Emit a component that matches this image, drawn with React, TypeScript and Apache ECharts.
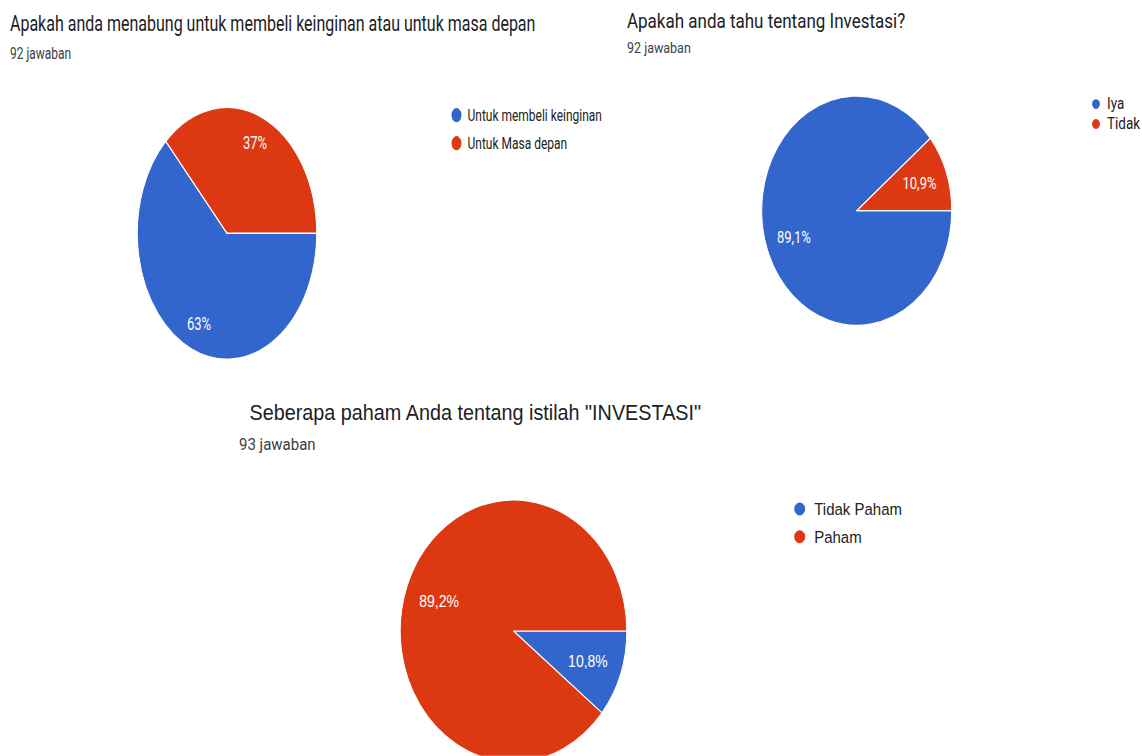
import React, { useEffect, useRef } from "react";
import * as echarts from "echarts";

// ---- data ----
const sliceColors = ["#3366cc", "#dc3912"];

const q1Title = "Apakah anda menabung untuk membeli keinginan atau untuk masa depan";
const q1Subtitle = "92 jawaban";
const q1Categories = ["Untuk membeli keinginan", "Untuk Masa depan"];
const q1Counts = [58, 34];

const q2Title = "Apakah anda tahu tentang Investasi?";
const q2Subtitle = "92 jawaban";
const q2Categories = ["Iya", "Tidak"];
const q2Counts = [82, 10];

const q3Title = 'Seberapa paham Anda tentang istilah "INVESTASI"';
const q3Subtitle = "93 jawaban";
const q3Categories = ["Tidak Paham", "Paham"];
const q3Counts = [10, 83];

const ROBOTO = "Roboto, 'Noto Sans', sans-serif";
const ARIAL = "'Liberation Sans', Arial, sans-serif";

type Cfg = {
  title: string;
  subtitle: string;
  categories: string[];
  counts: number[];
  titleLeft: number;
  titleTop: number;
  titleSize: number;
  titleLH: number;
  titleFont: string;
  subLeft: number;
  subTop: number;
  subSize: number;
  subLH: number;
  legendLeft: number;
  legendTop: number;
  legendSize: number;
  legendLH: number;
  legendGap: number;
  legendFont: string;
  iconW: number;
  iconH: number;
  center: [number, number];
  radius: number;
  labelRatio: number;
  labelSize: number;
  labelFont: string;
};

function buildOption(c: Cfg) {
  const total = c.counts.reduce((a, b) => a + b, 0);
  const data = c.categories.map((name, i) => ({
    name,
    value: c.counts[i],
    itemStyle: { color: sliceColors[i] },
  }));
  const fmt = (p: any) => {
    const v = (p.value / total) * 100;
    const s = Math.abs(v - Math.round(v)) < 0.05 ? String(Math.round(v)) : v.toFixed(1);
    return s.replace(".", ",") + "%";
  };
  return {
    animation: false,
    backgroundColor: "transparent",
    title: [
      {
        text: c.title,
        left: c.titleLeft,
        top: c.titleTop,
        padding: 0,
        textStyle: {
          fontFamily: c.titleFont,
          fontSize: c.titleSize,
          fontWeight: "normal",
          color: "#202124",
          lineHeight: c.titleLH,
        },
      },
      {
        text: c.subtitle,
        left: c.subLeft,
        top: c.subTop,
        padding: 0,
        textStyle: {
          fontFamily: ROBOTO,
          fontSize: c.subSize,
          fontWeight: "normal",
          color: "#3c4043",
          lineHeight: c.subLH,
        },
      },
    ],
    legend: {
      orient: "vertical",
      left: c.legendLeft,
      top: c.legendTop,
      padding: 0,
      icon: "circle",
      itemWidth: c.iconW,
      itemHeight: c.iconH,
      itemGap: c.legendGap,
      selectedMode: false,
      data: c.categories.map((n, i) => ({ name: n, itemStyle: { color: sliceColors[i] } })),
      textStyle: {
        fontFamily: c.legendFont,
        fontSize: c.legendSize,
        lineHeight: c.legendLH,
        color: "#222222",
        padding: 0,
      },
    },
    series: [
      {
        type: "pie",
        center: c.center,
        radius: c.radius,
        startAngle: 0,
        clockwise: true,
        silent: true,
        avoidLabelOverlap: false,
        data,
        label: { show: false },
        labelLine: { show: false },
        itemStyle: { borderColor: "#ffffff", borderWidth: 1 },
        emphasis: { disabled: true },
      },
      {
        type: "pie",
        center: c.center,
        radius: (c.radius * c.labelRatio) / 0.5,
        startAngle: 0,
        clockwise: true,
        silent: true,
        avoidLabelOverlap: false,
        data: data.map((d) => ({ ...d, itemStyle: { color: "rgba(0,0,0,0)" } })),
        itemStyle: { borderWidth: 0 },
        label: {
          show: true,
          position: "inside",
          formatter: fmt,
          color: "#ffffff",
          fontFamily: c.labelFont,
          fontSize: c.labelSize,
          textBorderWidth: 0,
        },
        labelLine: { show: false },
        emphasis: { disabled: true },
      },
    ],
  };
}

function Panel(props: { left: number; top: number; width: number; height: number; scaleY: number; cfg: Cfg }) {
  const ref = useRef<HTMLDivElement>(null);
  useEffect(() => {
    const chart = echarts.init(ref.current!, null, { renderer: "svg" });
    chart.setOption(buildOption(props.cfg) as any);
    return () => chart.dispose();
  }, []);
  return (
    <div
      ref={ref}
      style={{
        position: "absolute",
        left: props.left,
        top: props.top,
        width: props.width,
        height: props.height,
        transform: `scale(1, ${props.scaleY})`,
        transformOrigin: "0 0",
      }}
    />
  );
}

const s1 = 1.404;
const s2 = 1.207;
const s3 = 1.156;

const cfg1: Cfg = {
  title: q1Title,
  subtitle: q1Subtitle,
  categories: q1Categories,
  counts: q1Counts,
  titleLeft: 10,
  titleTop: 6.5,
  titleSize: 16,
  titleLH: 20,
  titleFont: ROBOTO,
  subLeft: 10,
  subTop: 30.7,
  subSize: 12,
  subLH: 14,
  legendLeft: 449.5,
  legendTop: 75,
  legendSize: 12,
  legendLH: 14,
  legendGap: 6,
  legendFont: ROBOTO,
  iconW: 12,
  iconH: 12,
  center: [227, 233.3 / s1],
  radius: 89.7,
  labelRatio: 0.75,
  labelSize: 13,
  labelFont: ROBOTO,
};

const cfg2: Cfg = {
  title: q2Title,
  subtitle: q2Subtitle,
  categories: q2Categories,
  counts: q2Counts,
  titleLeft: 27,
  titleTop: 8.2,
  titleSize: 17,
  titleLH: 20,
  titleFont: ROBOTO,
  subLeft: 27,
  subTop: 32.4,
  subSize: 12.5,
  subLH: 14,
  legendLeft: 490,
  legendTop: 79.2,
  legendSize: 13.5,
  legendLH: 14,
  legendGap: 2.5,
  legendFont: ROBOTO,
  iconW: 12,
  iconH: 10,
  center: [256.7, 210.7 / s2],
  radius: 95,
  labelRatio: 0.67,
  labelSize: 13,
  labelFont: ROBOTO,
};

const cfg3: Cfg = {
  title: q3Title,
  subtitle: q3Subtitle,
  categories: q3Categories,
  counts: q3Counts,
  titleLeft: 249.5,
  titleTop: 16.3,
  titleSize: 19.8,
  titleLH: 24,
  titleFont: ARIAL,
  subLeft: 239,
  subTop: 46.5,
  subSize: 15,
  subLH: 18,
  legendLeft: 792.2,
  legendTop: 103.1,
  legendSize: 15,
  legendLH: 17,
  legendGap: 7,
  legendFont: ARIAL,
  iconW: 19,
  iconH: 13,
  center: [513.5, 251 / s3],
  radius: 113.3,
  labelRatio: 0.67,
  labelSize: 14,
  labelFont: ARIAL,
};

export default function App() {
  return (
    <div
      style={{
        position: "absolute",
        left: 0,
        top: 0,
        width: 1142,
        height: 756,
        overflow: "hidden",
        background: "#ffffff",
      }}
    >
      <Panel left={0} top={0} width={640} height={380 / s1} scaleY={s1} cfg={cfg1} />
      <Panel left={600} top={0} width={542} height={380 / s2} scaleY={s2} cfg={cfg2} />
      <Panel left={0} top={380} width={1142} height={376 / s3} scaleY={s3} cfg={cfg3} />
    </div>
  );
}
